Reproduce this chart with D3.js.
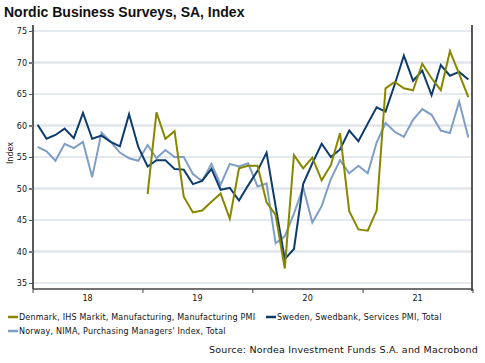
<!DOCTYPE html>
<html>
<head>
<meta charset="utf-8">
<script src="https://cdn.jsdelivr.net/npm/d3@7"></script>
<style>
  body { margin: 0; background: #fff; }
  svg text { font-family: "DejaVu Sans", Verdana, sans-serif; fill: #111; }
</style>
</head>
<body>
<svg id="chart" width="485" height="363"></svg>
<script>
const START_MONTH = '2018-01';
const YEAR_LABELS = ['18', '19', '20', '21'];
const Y_TICKS = [35, 40, 45, 50, 55, 60, 65, 70, 75];

// Denmark starts Jan 2019, nulls for 2018
const denmark = [
  null, null, null, null, null, null, null, null, null, null, null, null,
  49.1, 62.1, 57.9, 59.1, 48.7, 46.2, 46.5, 47.9, 49.2, 45.2, 53.2, 53.6,
  53.6, 47.8, 45.8, 37.3, 55.3, 53.2, 54.9, 51.3, 53.7, 58.8, 46.4, 43.5,
  43.3, 46.5, 65.9, 66.9, 65.9, 65.6, 69.8, 67.5, 65.6, 71.8, 68.2, 64.5
];
const sweden = [
  60.1, 57.9, 58.5, 59.5, 58.0, 62.0, 57.9, 58.4, 57.4, 56.7, 61.8, 56.6,
  53.5, 54.5, 54.5, 53.1, 53.0, 50.7, 51.2, 53.1, 49.8, 50.1, 48.1, 50.5,
  52.8, 55.7, 47.2, 38.8, 40.4, 50.7, 54.0, 57.1, 55.0, 56.2, 59.2, 57.5,
  60.3, 62.9, 62.2, 66.5, 71.1, 67.1, 68.7, 64.8, 69.6, 67.9, 68.5, 67.3
];
const norway = [
  56.6, 55.9, 54.4, 57.1, 56.4, 57.4, 51.8, 58.9, 57.4, 55.7, 54.8, 54.4,
  56.9, 54.8, 56.1, 55.0, 55.0, 52.3, 51.2, 53.9, 50.6, 53.9, 53.5, 54.0,
  50.3, 50.8, 41.3, 42.4, 46.0, 50.2, 44.6, 47.2, 51.5, 54.5, 52.4, 53.6,
  52.4, 57.3, 60.4, 59.0, 58.2, 60.9, 62.6, 61.7, 59.2, 58.8, 63.8, 58.1
];

const series = [
  { name: 'Norway, NIMA, Purchasing Managers\' Index, Total', values: norway, color: '#7f9ec4' },
  { name: 'Sweden, Swedbank, Services PMI, Total', values: sweden, color: '#0d3b6b' },
  { name: 'Denmark, IHS Markit, Manufacturing, Manufacturing PMI', values: denmark, color: '#878700' },
];

const svg = d3.select('#chart');
const plotL = 33, plotR = 473, plotT = 31, plotB = 283;

const parse = d3.timeParse('%Y-%m');
const start = parse(START_MONTH);
const months = d3.range(sweden.length).map(i => d3.timeMonth.offset(start, i));
const midMonth = d => new Date((+d + +d3.timeMonth.offset(d, 1)) / 2);

const x = d3.scaleTime()
  .domain([start, d3.timeMonth.offset(start, sweden.length)])
  .range([plotL, plotR]);
const y = d3.scaleLinear().domain([35, 75]).range([plotB, plotT]);

// title
svg.append('text').attr('x', 4).attr('y', 17)
  .style('font-family', '"Liberation Sans", Arial, sans-serif')
  .attr('font-size', 14).attr('font-weight', 'bold')
  .text('Nordic Business Surveys, SA, Index');

// gridlines
svg.append('g').selectAll('line').data(Y_TICKS).join('line')
  .attr('x1', plotL).attr('x2', plotR - 1)
  .attr('y1', d => y(d)).attr('y2', d => y(d))
  .attr('stroke', d => d % 10 === 0 ? '#e1e5ea' : '#c9d4df')
  .attr('stroke-width', d => d % 10 === 0 ? 2.5 : 1);

// y axis
const yAxis = svg.append('g').attr('transform', `translate(${plotL},0)`)
  .call(d3.axisLeft(y).tickValues(Y_TICKS).tickSize(4).tickPadding(2));
yAxis.select('.domain').attr('stroke', '#000').attr('stroke-width', 1.3)
  .attr('d', `M0,25V${plotB + 6}`);
yAxis.selectAll('.tick line').attr('stroke', d => d % 10 === 0 ? '#777' : '#555')
  .attr('stroke-width', d => d % 10 === 0 ? 2 : 1);
yAxis.selectAll('.tick text').attr('font-size', 8).attr('fill', '#111');

// right frame line
svg.append('line').attr('x1', plotR - 1).attr('x2', plotR - 1)
  .attr('y1', 25).attr('y2', plotB + 8)
  .attr('stroke', '#000').attr('stroke-width', 1.3);

// x axis
const years = d3.timeYear.range(start, x.domain()[1]);
const xAxis = svg.append('g').attr('transform', `translate(0,${plotB + 6})`);
xAxis.append('line').attr('x1', plotL).attr('x2', plotR)
  .attr('stroke', '#444').attr('stroke-width', 1.5);
xAxis.selectAll('line.tk').data(years.concat([x.domain()[1]])).join('line')
  .attr('class', 'tk')
  .attr('x1', d => x(d)).attr('x2', d => x(d))
  .attr('y1', 0).attr('y2', 4)
  .attr('stroke', '#444').attr('stroke-width', 1);
xAxis.selectAll('text').data(years).join('text')
  .attr('x', d => x(d3.timeMonth.offset(d, 6)))
  .attr('y', 12)
  .attr('text-anchor', 'middle')
  .attr('font-size', 8)
  .text((d, i) => YEAR_LABELS[i]);

// y label
svg.append('text')
  .attr('transform', 'translate(13,153) rotate(-90)')
  .attr('text-anchor', 'middle').attr('font-size', 8)
  .text('Index');

// lines
const line = d3.line()
  .defined(d => d.v != null)
  .x(d => x(midMonth(d.date)))
  .y(d => y(d.v));

svg.append('g').selectAll('path').data(series).join('path')
  .attr('fill', 'none')
  .attr('stroke', d => d.color)
  .attr('stroke-width', 2)
  .attr('stroke-linejoin', 'miter')
  .attr('d', s => line(s.values.map((v, i) => ({ date: months[i], v }))));

// legend
const legendItems = [
  { s: series[2], x: 8, y: 317 },
  { s: series[1], x: 266, y: 317 },
  { s: series[0], x: 8, y: 331 },
];
const lg = svg.append('g').selectAll('g').data(legendItems).join('g')
  .attr('transform', d => `translate(${d.x},${d.y})`);
lg.append('line').attr('x1', 0).attr('x2', 10).attr('y1', 0).attr('y2', 0)
  .attr('stroke', d => d.s.color).attr('stroke-width', 2.5);
lg.append('text').attr('x', 11).attr('y', 3).attr('font-size', 8)
  .attr('letter-spacing', 0.2)
  .text(d => d.s.name);

// source
svg.append('text').attr('x', 478).attr('y', 353)
  .attr('text-anchor', 'end').attr('font-size', 9.5)
  .attr('letter-spacing', 0.2)
  .text('Source: Nordea Investment Funds S.A. and Macrobond');
</script>
</body>
</html>
